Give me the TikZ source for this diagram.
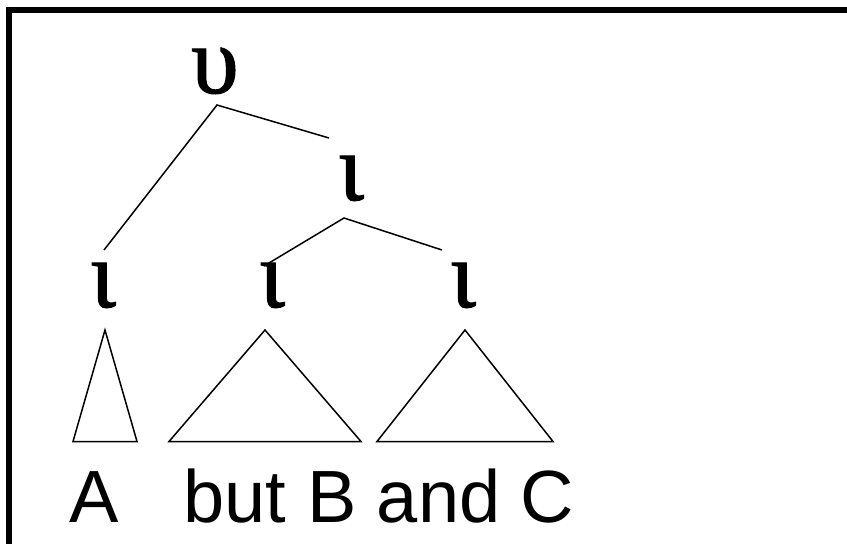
\documentclass[tikz,border=0pt]{standalone}
\usepackage{fontspec}
\setmainfont{Liberation Sans}
\newfontfamily\greekfont[FakeBold=1.2]{Liberation Serif}
\usepackage{tikz}

\tikzset{
  greeklbl/.style={inner sep=0pt, anchor=base, font=\greekfont\fontsize{96}{100}\selectfont},
  wordlbl/.style={inner sep=0pt, anchor=base west, font=\fontsize{74}{80}\selectfont},
  branch/.style={line width=1.5pt},
  subtree/.style={line width=1.5pt, line join=miter}
}

\begin{document}
\begin{tikzpicture}[x=1pt, y=-1pt]
\clip (0,0) rectangle (847,544);
\draw[line width=6pt] (9,10) rectangle (870,570);
% labels
\node[greeklbl] (up) at (215,93) {υ};
\node[greeklbl] (iotaM) at (351,200) {ι};
\node[greeklbl] (iotaA) at (103,307) {ι};
\node[greeklbl] (iotaB) at (272,307) {ι};
\node[greeklbl] (iotaC) at (463,307) {ι};
% branch ends
\coordinate (upTop) at (217,105);
\coordinate (upL) at (104,250);
\coordinate (upR) at (329,138);
\coordinate (mTop) at (344,218);
\coordinate (mL) at (264,266);
\coordinate (mR) at (442,250);
\draw[branch] (upL) -- (upTop) -- (upR);
\draw[branch] (mL) -- (mTop) -- (mR);
% triangles
\draw[subtree] (105,330) -- (73,441.5) -- (137,441.5) -- cycle;
\draw[subtree] (265,330) -- (169,441.5) -- (361,441.5) -- cycle;
\draw[subtree] (465,330) -- (377,441.5) -- (553,441.5) -- cycle;
% words
\node[wordlbl] (wA) at (69,522.7) {A};
\node[wordlbl] (wBC) at (183.5,522.7) {but B and C};
\end{tikzpicture}
\end{document}
